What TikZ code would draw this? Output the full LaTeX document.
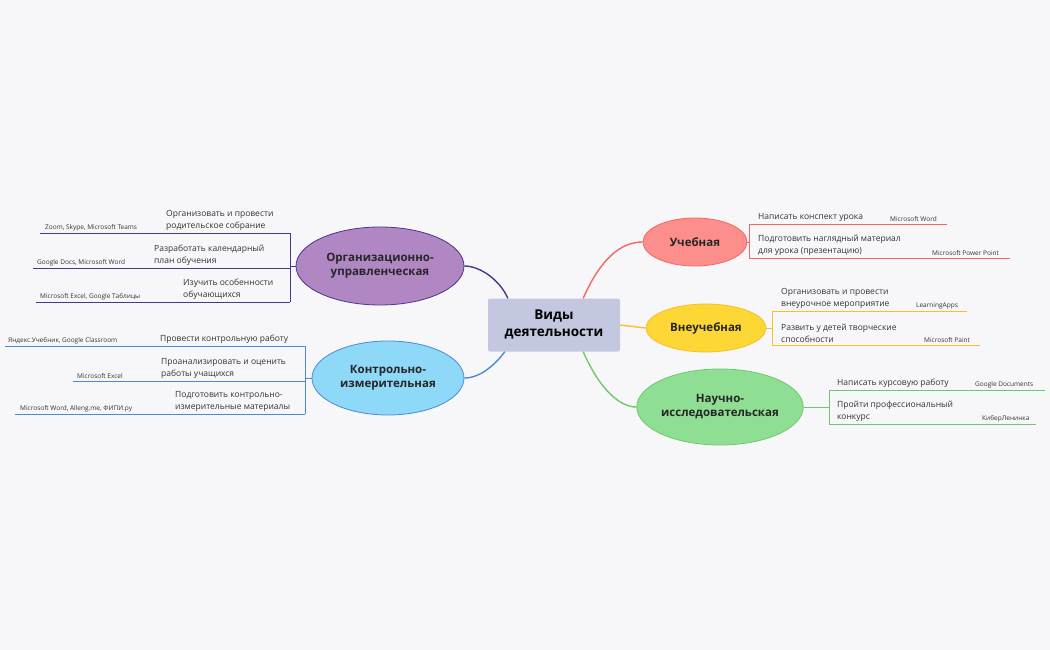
\documentclass[tikz,border=0pt]{standalone}
\usepackage{fontspec}
\setmainfont{Open Sans}
\usetikzlibrary{shapes.geometric}
\definecolor{bg}{HTML}{F7F7F9}
\definecolor{cR}{HTML}{F4665F}\definecolor{fR}{HTML}{FC8F8B}
\definecolor{cY}{HTML}{F6C02A}\definecolor{fY}{HTML}{FDD735}
\definecolor{cG}{HTML}{6FC96A}\definecolor{fG}{HTML}{8EDE93}
\definecolor{cP}{HTML}{4B3591}\definecolor{fP}{HTML}{B187C3}
\definecolor{cB}{HTML}{4A8BD8}\definecolor{fB}{HTML}{8DD9F7}
\definecolor{cC}{HTML}{C3C8E0}
\definecolor{tx}{HTML}{333333}
\begin{document}
\begin{tikzpicture}[x=1pt,y=-1pt,
  br/.style={ellipse,draw,line width=0.8pt,font=\fontsize{11.5}{14}\selectfont\bfseries,align=center,inner sep=0pt,text=black!85},
  leaf/.style={anchor=south west,inner sep=0pt,align=left,font=\fontsize{8.5}{12}\selectfont,text=tx},
  tool/.style={anchor=south west,inner sep=0pt,font=\fontsize{6.5}{7}\selectfont,text=tx},
  ln/.style={line width=0.8pt},
  mc/.style={line width=1.4pt}]
\fill[bg] (0,0) rectangle (1050,650);
\node[fill=cC,rounded corners=2pt,minimum width=132pt,minimum height=53pt,font=\fontsize{13.5}{17}\selectfont\bfseries,align=center] (C) at (554,325) {Виды\\деятельности};
\node[br,fill=fR,draw=cR,minimum width=104pt,minimum height=48pt] (U) at (695,242) {Учебная};
\node[br,fill=fY,draw=cY,minimum width=120pt,minimum height=48pt] (V) at (706,328) {Внеучебная};
\node[br,fill=fG,draw=cG,minimum width=154pt,minimum height=76pt] (N) at (720,407) {Научно-\\исследовательская};
\node[br,fill=fP,draw=cP,minimum width=168pt,minimum height=78pt] (O) at (380,266) {Организационно-\\управленческая};
\node[br,fill=fB,draw=cB,minimum width=152pt,minimum height=74pt] (K) at (388,378) {Контрольно-\\измерительная};
% main connectors
\draw[mc,cR] (C.north east)++(-37,0) coordinate (cu) (cu) .. controls (600,260) and (620,242) .. (U.west);
\draw[mc,cY] (C.east) -- (V.west);
\draw[mc,cG] (C.south east)++(-37,0) coordinate (cn) (cn) .. controls (600,390) and (620,407) .. (N.west);
\draw[mc,cP] (C.north west)++(20,0) coordinate (co) (co) .. controls (500,280) and (480,266) .. (O.east);
\draw[mc,cB] (C.south west)++(17,0) coordinate (ck) (ck) .. controls (495,365) and (480,378) .. (K.east);
% Учебная
\coordinate (ub1) at (749,224);\coordinate (ub2) at (749,258);
\draw[ln,cR] (U.east) -- (749,242);
\draw[ln,cR] (ub1) -- (ub2);
\node[leaf] (u1) at (758,222) {Написать конспект урока};
\node[tool] (u1t) at (890,222) {Microsoft Word};
\draw[ln,cR] (ub1) -- (947,224);
\node[leaf] (u2) at (758,256) {Подготовить наглядный материал\\для урока (презентацию)};
\node[tool] (u2t) at (932,256) {Microsoft Power Point};
\draw[ln,cR] (ub2) -- (1010,258);
% Внеучебная
\coordinate (vb1) at (772,311);\coordinate (vb2) at (772,345);
\draw[ln,cY] (V.east) -- (772,328);
\draw[ln,cY] (vb1) -- (vb2);
\node[leaf] (v1) at (781,309) {Организовать и провести\\внеурочное мероприятие};
\node[tool] (v1t) at (916,309) {LearningApps};
\draw[ln,cY] (vb1) -- (967,311);
\node[leaf] (v2) at (781,343) {Развить у детей творческие\\способности};
\node[tool] (v2t) at (924,343) {Microsoft Paint};
\draw[ln,cY] (vb2) -- (980,345);
% Научно
\coordinate (nb1) at (829,390);\coordinate (nb2) at (829,424);
\draw[ln,cG] (N.east) -- (829,407);
\draw[ln,cG] (nb1) -- (nb2);
\node[leaf] (n1) at (837,388) {Написать курсовую работу};
\node[tool] (n1t) at (975,388) {Google Documents};
\draw[ln,cG] (nb1) -- (1045,390);
\node[leaf] (n2) at (837,422) {Пройти профессиональный\\конкурс};
\node[tool] (n2t) at (982,422) {КиберЛенинка};
\draw[ln,cG] (nb2) -- (1036,424);
% Организационно
\coordinate (ob1) at (290,233);\coordinate (ob2) at (290,268);\coordinate (ob3) at (290,302);
\draw[ln,cP] (O.west) -- (290,266);
\draw[ln,cP] (ob1) -- (ob3);
\node[leaf] (o1) at (166,231) {Организовать и провести\\родительское собрание};
\node[tool] (o1t) at (45,231) {Zoom, Skype, Microsoft Teams};
\draw[ln,cP] (ob1) -- (40,233);
\node[leaf] (o2) at (154,266) {Разработать календарный\\план обучения};
\node[tool] (o2t) at (37,266) {Google Docs, Microsoft Word};
\draw[ln,cP] (ob2) -- (33,268);
\node[leaf] (o3) at (183,300) {Изучить особенности\\обучающихся};
\node[tool] (o3t) at (40,300) {Microsoft Excel, Google Таблицы};
\draw[ln,cP] (ob3) -- (36,302);
% Контрольно
\coordinate (kb1) at (305,346);\coordinate (kb2) at (305,381);\coordinate (kb3) at (305,414);
\draw[ln,cB] (K.west) -- (305,378);
\draw[ln,cB] (kb1) -- (kb3);
\node[leaf] (k1) at (160,344) {Провести контрольную работу};
\node[tool] (k1t) at (8,344) {Яндекс.Учебник, Google Classroom};
\draw[ln,cB] (kb1) -- (5,346);
\node[leaf] (k2) at (161,379) {Проанализировать и оценить\\работы учащихся};
\node[tool] (k2t) at (77,379) {Microsoft Excel};
\draw[ln,cB] (kb2) -- (73,381);
\node[leaf] (k3) at (175,412) {Подготовить контрольно-\\измерительные материалы};
\node[tool] (k3t) at (20,412) {Microsoft Word, Alleng.me, ФИПИ.ру};
\draw[ln,cB] (kb3) -- (15,414);
\end{tikzpicture}
\end{document}
